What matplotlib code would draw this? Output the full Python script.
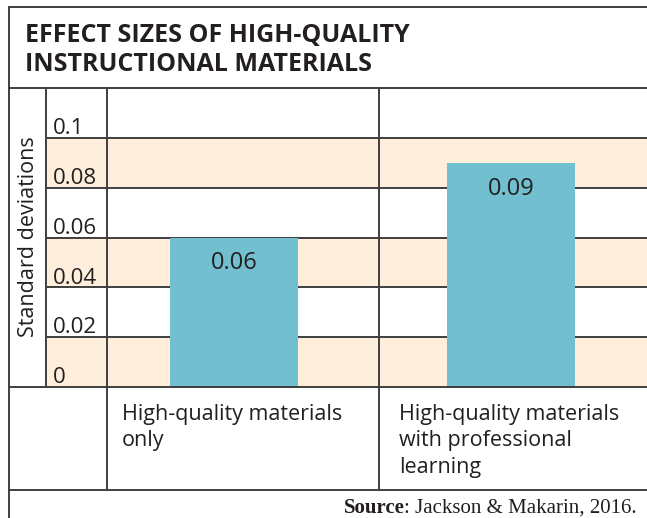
import matplotlib
matplotlib.use("Agg")
import matplotlib.pyplot as plt
from matplotlib.lines import Line2D
from matplotlib.transforms import blended_transform_factory

# ---- data ----
categories = ["High-quality materials\nonly",
              "High-quality materials\nwith professional\nlearning"]
values = [0.06, 0.09]
tick_values = [0, 0.02, 0.04, 0.06, 0.08, 0.1]
tick_labels = ["0", "0.02", "0.04", "0.06", "0.08", "0.1"]
title = "EFFECT SIZES OF HIGH-QUALITY\nINSTRUCTIONAL MATERIALS"
ylabel = "Standard deviations"

W, H = 647, 518
fig = plt.figure(figsize=(W / 100, H / 100), dpi=100)
fig.patch.set_facecolor("white")

SANS = ["Open Sans", "DejaVu Sans"]
TXT = "#231f20"
LINE = "#3f3f3f"
PEACH = "#feeedb"
BAR = "#72bfcf"
LW = 1.4

def fx(px):
    return px / W

def fy(py):
    return 1 - py / H

# plot axes region (pixels)
ax_l, ax_r, ax_t, ax_b = 46, 647, 88, 387
ax = fig.add_axes([fx(ax_l), fy(ax_b), fx(ax_r) - fx(ax_l), fy(ax_t) - fy(ax_b)])
ax.set_ylim(0, 0.12)
ax.set_xlim(-0.679, 1.491)
ax.axis("off")

# bands
for i in range(0, len(tick_values) - 1, 2):
    ax.axhspan(tick_values[i], tick_values[i + 1], color=PEACH, lw=0, zorder=0)
# gridlines
for v in tick_values[1:]:
    ax.axhline(v, color=LINE, lw=LW, zorder=1)

# bars
pos = list(range(len(values)))
ax.bar(pos, values, width=0.462, color=BAR, zorder=2)
for p, v in zip(pos, values):
    ax.text(p, v - 0.0104, f"{v:.2f}", ha="center", va="center",
            fontsize=17, color=TXT, family=SANS, zorder=3)

# tick labels
tr = blended_transform_factory(ax.transAxes, ax.transData)
for v, lab in zip(tick_values, tick_labels):
    ax.text((53 - ax_l) / (ax_r - ax_l), v + 0.0015, lab, transform=tr,
            ha="left", va="baseline", fontsize=16, color=TXT, family=SANS)

# category labels
trc = blended_transform_factory(ax.transData, fig.transFigure)
for p, c in zip(pos, categories):
    ax.text(p - 0.405, fy(404), c, transform=trc, ha="left", va="top",
            fontsize=15.5, color=TXT, family=SANS, linespacing=1.33,
            clip_on=False)

# frame lines (figure coords)
def hline(y, x0, x1):
    fig.add_artist(Line2D([fx(x0), fx(x1)], [fy(y), fy(y)], color=LINE, lw=LW,
                          transform=fig.transFigure))

def vline(x, y0, y1):
    fig.add_artist(Line2D([fx(x), fx(x)], [fy(y0), fy(y1)], color=LINE, lw=LW,
                          transform=fig.transFigure))

hline(7, 9, W)
hline(88, 9, W)
hline(387, 9, W)
hline(490, 9, W)
vline(9, 7, H)
vline(46, 88, 387)
vline(107, 88, 490)
vline(379, 88, 490)

# title
fig.text(fx(25), fy(23), title, ha="left", va="top", fontsize=18,
         fontweight="bold", color=TXT, family=SANS, linespacing=1.2)

# y label
fig.text(fx(29), fy(237), ylabel, rotation=90, ha="center", va="center",
         fontsize=15.5, color=TXT, family=SANS)

# source
SERIF = ["Liberation Serif", "DejaVu Serif"]
src = fig.text(fx(637), fy(508), ": Jackson & Makarin, 2016.", ha="right",
               va="center", fontsize=15, color=TXT, family=SERIF)
fig.add_artist(plt.Annotation("Source", xy=(0, 0.5), xycoords=src,
                              ha="right", va="center", fontsize=15,
                              fontweight="bold", color=TXT, family=SERIF))

fig.savefig("out.png", dpi=100, facecolor="white")
